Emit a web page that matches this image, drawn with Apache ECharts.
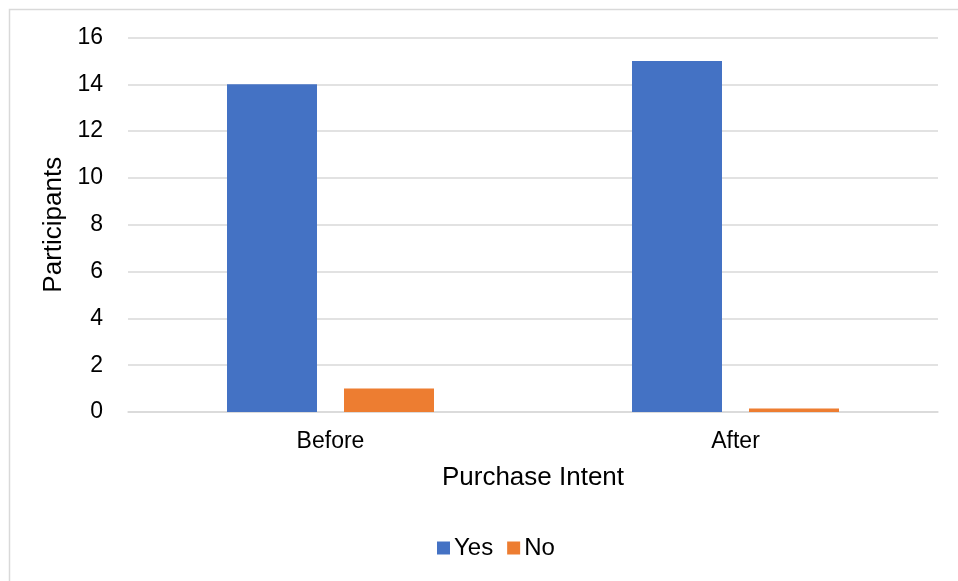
<!DOCTYPE html>
<html>
<head>
<meta charset="utf-8">
<script src="https://cdn.jsdelivr.net/npm/echarts@6/dist/echarts.min.js"></script>
<style>
  html, body { margin: 0; padding: 0; background: #fff; }
  #chart { width: 958px; height: 581px; }
</style>
</head>
<body>
<div id="chart"></div>
<script>
// Purchase intent survey: participants answering Yes / No, before and after
const categories = ['Before', 'After'];
const yesValues = [14, 15];
const noValues = [1, 0.15];
const yTicks = { min: 0, max: 16, interval: 2 };

const font = '"Liberation Sans", Arial, sans-serif';
const chart = echarts.init(document.getElementById('chart'), null, { renderer: 'canvas' });

chart.setOption({
  animation: false,
  backgroundColor: '#ffffff',
  textStyle: { fontFamily: font },
  graphic: [{
    type: 'rect',
    left: 7, top: 7,
    shape: { width: 1000, height: 600 },
    style: { fill: 'none', stroke: '#d9d9d9', lineWidth: 1.5 },
    silent: true,
    z: -1
  }],
  grid: { left: 128, right: 20, top: 37.5, bottom: 169 },
  legend: {
    data: ['Yes', 'No'],
    left: 432,
    top: 531,
    itemWidth: 13,
    itemHeight: 13,
    itemGap: 14,
    icon: 'rect',
    textStyle: { fontFamily: font, fontSize: 24, color: '#000', padding: [0, 0, 0, -1] }
  },
  xAxis: {
    type: 'category',
    data: categories,
    name: 'Purchase Intent',
    nameLocation: 'middle',
    nameGap: 53,
    nameTextStyle: { fontFamily: font, fontSize: 26, color: '#000' },
    axisLine: { show: true, lineStyle: { color: '#d9d9d9', width: 1.5 } },
    axisTick: { show: false },
    axisLabel: { fontFamily: font, fontSize: 23, color: '#000', margin: 18 }
  },
  yAxis: {
    type: 'value',
    min: yTicks.min,
    max: yTicks.max,
    interval: yTicks.interval,
    name: 'Participants',
    nameLocation: 'middle',
    nameGap: 61,
    nameMoveOverlap: false,
    nameTextStyle: { fontFamily: font, fontSize: 26, color: '#000' },
    axisLine: { show: false },
    axisTick: { show: false },
    axisLabel: { fontFamily: font, fontSize: 23, color: '#000', margin: 25 },
    splitLine: { lineStyle: { color: '#d9d9d9', width: 1.5 } }
  },
  series: [
    {
      name: 'Yes',
      type: 'bar',
      data: yesValues,
      barWidth: 90,
      barGap: '30%',
      itemStyle: { color: '#4472c4' }
    },
    {
      name: 'No',
      type: 'bar',
      data: noValues,
      barWidth: 90,
      itemStyle: { color: '#ed7d31' }
    }
  ]
});
</script>
</body>
</html>
